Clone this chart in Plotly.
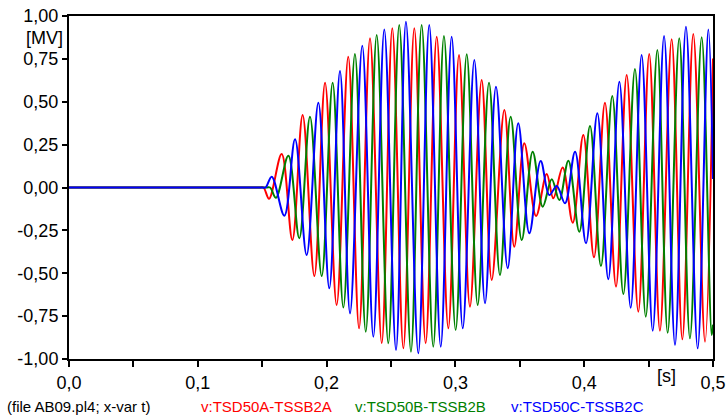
import plotly.graph_objects as go

# Time (s) and voltage (MV) of the extrema
t_a = [0.0, 0.1480, 0.1510, 0.1553, 0.1651, 0.1734, 0.1814, 0.1905, 0.1988, 0.2078, 0.2168, 0.2252,
       0.2337, 0.2428, 0.2510, 0.2596, 0.2681, 0.2769, 0.2855, 0.2945, 0.3028, 0.3113,
       0.3204, 0.3282, 0.3380, 0.3457, 0.3535, 0.3626, 0.3709, 0.3760, 0.3833, 0.3911,
       0.3993, 0.4076, 0.4161, 0.4247, 0.4330, 0.4420, 0.4505, 0.4588, 0.4679, 0.4762,
       0.4847, 0.4938, 0.5]
v_a = [0.0, 0.0, 0.0, -0.065, 0.195, -0.306, 0.423, -0.516, 0.611, -0.685, 0.763, -0.821,
       0.870, -0.908, 0.928, -0.938, 0.928, -0.908, 0.879, -0.821, 0.773, -0.695,
       0.627, -0.539, 0.452, -0.345, 0.258, -0.166, 0.079, -0.063, 0.116, -0.205,
       0.306, -0.407, 0.494, -0.578, 0.656, -0.724, 0.778, -0.835, 0.864, -0.885,
       0.895, -0.899, 0.752]

t_b = [0.0, 0.1530, 0.1561, 0.1607, 0.1703, 0.1788, 0.1871, 0.1962, 0.2047, 0.2130, 0.2220, 0.2304,
       0.2389, 0.2479, 0.2564, 0.2655, 0.2738, 0.2828, 0.2911, 0.3002, 0.3088, 0.3173,
       0.3261, 0.3346, 0.3429, 0.3515, 0.3600, 0.3678, 0.3748, 0.3807, 0.3877, 0.3962,
       0.4045, 0.4130, 0.4218, 0.4304, 0.4394, 0.4478, 0.4568, 0.4648, 0.4738, 0.4821,
       0.4912, 0.4990, 0.5]
v_b = [0.0, 0.0, 0.0, -0.060, 0.185, -0.296, 0.413, -0.516, 0.611, -0.700, 0.778, -0.841,
       0.889, -0.908, 0.948, -0.957, 0.948, -0.928, 0.883, -0.831, 0.777, -0.685,
       0.611, -0.510, 0.413, -0.306, 0.209, -0.112, 0.048, -0.073, 0.156, -0.258,
       0.359, -0.458, 0.534, -0.621, 0.691, -0.753, 0.802, -0.847, 0.870, -0.879,
       0.876, -0.860, -0.800]

t_c = [0.0, 0.1500, 0.1526, 0.1574, 0.1672, 0.1755, 0.1845, 0.1936, 0.2021, 0.2104, 0.2182, 0.2277,
       0.2363, 0.2448, 0.2539, 0.2616, 0.2712, 0.2797, 0.2886, 0.2971, 0.3057, 0.3147,
       0.3230, 0.3315, 0.3406, 0.3488, 0.3574, 0.3662, 0.3729, 0.3787, 0.3851, 0.3929,
       0.4014, 0.4102, 0.4187, 0.4273, 0.4361, 0.4446, 0.4532, 0.4620, 0.4705, 0.4790,
       0.4881, 0.4964, 0.5]
v_c = [0.0, 0.0, 0.0, 0.063, -0.164, 0.281, -0.394, 0.494, -0.588, 0.679, -0.734, 0.827,
       -0.870, 0.922, -0.948, 0.967, -0.967, 0.948, -0.928, 0.879, -0.821, 0.743,
       -0.675, 0.588, -0.471, 0.374, -0.267, 0.155, -0.044, 0.009, -0.092, 0.209,
       -0.325, 0.433, -0.535, 0.617, -0.701, 0.773, -0.835, 0.883, -0.918, 0.938,
       -0.938, 0.922, 0.050]

series_names = ["v:TSD50A-TSSB2A", "v:TSD50B-TSSB2B", "v:TSD50C-TSSB2C"]
series_colors = ["#ff0000", "#008000", "#0000ff"]

x_tickvals = [0.0, 0.05, 0.1, 0.15, 0.2, 0.25, 0.3, 0.35, 0.4, 0.45, 0.5]
x_ticktext = ["0,0", "", "0,1", "", "0,2", "", "0,3", "", "0,4", "", "0,5"]
y_tickvals = [1.0, 0.75, 0.5, 0.25, 0.0, -0.25, -0.5, -0.75, -1.0]
y_ticktext = ["1,00", "0,75", "0,50", "0,25", "0,00", "-0,25", "-0,50", "-0,75", "-1,00"]

FONT = "Liberation Sans, Arial, sans-serif"

fig = go.Figure()
for t, v, name, col in zip([t_a, t_b, t_c], [v_a, v_b, v_c], series_names, series_colors):
    fig.add_trace(go.Scatter(x=t, y=v, mode="lines", name=name,
                             line=dict(color=col, width=2, shape="spline", smoothing=1.0)))

fig.update_layout(
    width=728, height=416,
    margin=dict(l=69, r=15, t=16, b=57, autoexpand=False),
    paper_bgcolor="white", plot_bgcolor="white",
    showlegend=False,
    font=dict(family=FONT, size=18, color="black"),
)
fig.update_xaxes(range=[0, 0.5], tickvals=x_tickvals, ticktext=x_ticktext,
                 showgrid=False, zeroline=False, showline=True, linecolor="black",
                 linewidth=2, mirror=True, ticks="outside", ticklen=6, tickwidth=1.5,
                 tickcolor="black", tickfont=dict(size=18), automargin=False)
fig.update_yaxes(range=[-1, 1], tickvals=y_tickvals, ticktext=y_ticktext,
                 showgrid=False, zeroline=False, showline=True, linecolor="black",
                 linewidth=2, mirror=True, ticks="outside", ticklen=5, tickwidth=1.5,
                 tickcolor="black", tickfont=dict(size=18), automargin=False)

fig.add_annotation(text="[MV]", xref="paper", yref="paper", x=-0.006, y=0.937,
                   xanchor="right", yanchor="middle", showarrow=False, font=dict(size=18))
fig.add_annotation(text="[s]", xref="paper", yref="paper", x=0.928, y=-0.05,
                   xanchor="center", yanchor="middle", showarrow=False, font=dict(size=18))

legend_items = [("(file AB09.pl4; x-var t)", "black", -0.1)] + \
    [(n, c, px) for n, c, px in zip(series_names, series_colors, [0.202, 0.441, 0.684])]
for text, col, xp in legend_items:
    fig.add_annotation(text=text, xref="paper", yref="paper", x=xp, y=-0.138,
                       xanchor="left", yanchor="middle", showarrow=False,
                       font=dict(size=15, color=col))

fig.write_html("out.html", config={"displayModeBar": False},
               post_script="document.body.style.margin='0';document.body.style.padding='0';")
